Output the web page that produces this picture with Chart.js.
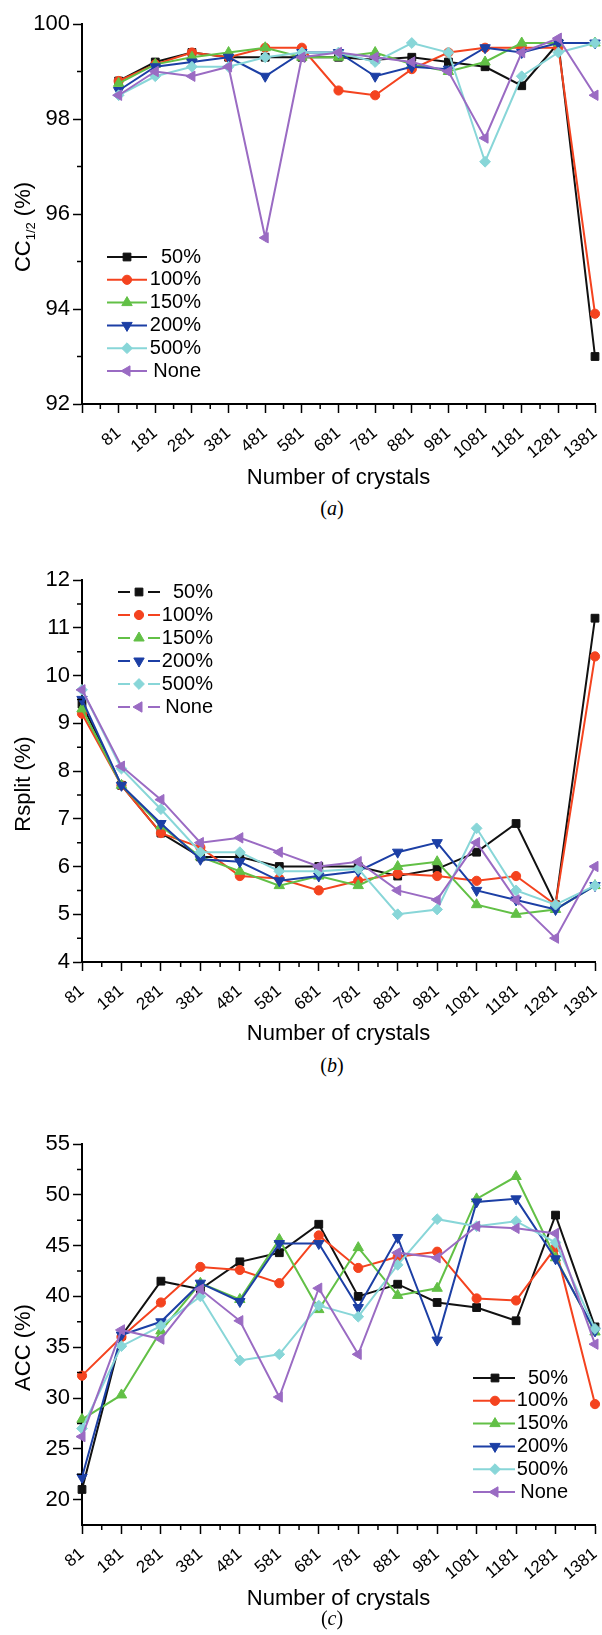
<!DOCTYPE html>
<html>
<head>
<meta charset="utf-8">
<script src="https://cdn.jsdelivr.net/npm/chart.js@4.4.1/dist/chart.umd.min.js"></script>
<style>
  html, body { margin: 0; padding: 0; background: #fff; }
  body { width: 602px; height: 1635px; position: relative; overflow: hidden; }
  canvas { position: absolute; left: 0; }
  .caption {
    position: absolute; left: 72px; width: 520px; text-align: center;
    font: 20px "Liberation Serif", "Times New Roman", serif; line-height: 24px; color: #000;
  }
</style>
</head>
<body>
<canvas id="ccChart" width="602" height="494" style="top:0px"></canvas>
<div class="caption" style="top:496px">(<i>a</i>)</div>
<canvas id="rsplitChart" width="602" height="520" style="top:530px"></canvas>
<div class="caption" style="top:1053px">(<i>b</i>)</div>
<canvas id="accChart" width="602" height="525" style="top:1090px"></canvas>
<div class="caption" style="top:1606px">(<i>c</i>)</div>

<script>
// number of crystals (x) and their tick labels
const crystals = [81, 181, 281, 381, 481, 581, 681, 781, 881, 981, 1081, 1181, 1281, 1381];
const xTickLabels = ["81", "181", "281", "381", "481", "581", "681", "781", "881", "981", "1081", "1181", "1281", "1381"];
const seriesNames = ["50%", "100%", "150%", "200%", "500%", "None"];

// (a) CC1/2 (%)
const cc50   = [98.8, 99.2, 99.4, 99.3, 99.3, 99.3, 99.3, 99.25, 99.3, 99.2, 99.1, 98.7, 99.6, 93.0];
const cc100  = [98.8, 99.15, 99.4, 99.3, 99.5, 99.5, 98.6, 98.5, 99.05, 99.4, 99.5, 99.5, 99.5, 93.9];
const cc150  = [98.75, 99.15, 99.3, 99.4, 99.5, 99.3, 99.3, 99.4, 99.15, 99.0, 99.2, 99.6, 99.6, 99.6];
const cc200  = [98.6, 99.1, 99.2, 99.3, 98.9, 99.4, 99.4, 98.9, 99.1, 99.05, 99.5, 99.4, 99.6, 99.6];
const cc500  = [98.5, 98.9, 99.1, 99.1, 99.3, 99.4, 99.4, 99.2, 99.6, 99.4, 97.1, 98.9, 99.4, 99.6];
const ccNone = [98.5, 99.0, 98.9, 99.1, 95.5, 99.3, 99.4, 99.3, 99.2, 99.0, 97.6, 99.4, 99.7, 98.5];

// (b) Rsplit (%)
const rs50   = [9.4, 7.7, 6.7, 6.2, 6.2, 6.0, 6.0, 6.0, 5.8, 5.95, 6.3, 6.9, 5.2, 11.2];
const rs100  = [9.2, 7.7, 6.7, 6.4, 5.8, 5.75, 5.5, 5.7, 5.85, 5.8, 5.7, 5.8, 5.2, 10.4];
const rs150  = [9.3, 7.7, 6.85, 6.2, 5.9, 5.6, 5.8, 5.6, 6.0, 6.1, 5.2, 5.0, 5.1, 5.6];
const rs200  = [9.5, 7.7, 6.9, 6.15, 6.1, 5.7, 5.8, 5.9, 6.3, 6.5, 5.5, 5.3, 5.1, 5.6];
const rs500  = [9.7, 8.05, 7.2, 6.3, 6.3, 5.9, 5.9, 5.95, 5.0, 5.1, 6.8, 5.5, 5.2, 5.6];
const rsNone = [9.7, 8.1, 7.4, 6.5, 6.6, 6.3, 6.0, 6.1, 5.5, 5.3, 6.5, 5.3, 4.5, 6.0];

// (c) ACC (%)
const acc50   = [21.0, 36.1, 41.5, 40.7, 43.4, 44.3, 47.1, 40.0, 41.2, 39.4, 38.9, 37.6, 48.0, 37.0];
const acc100  = [32.2, 36.0, 39.4, 42.9, 42.6, 41.3, 46.0, 42.8, 43.9, 44.4, 39.8, 39.6, 44.8, 29.4];
const acc150  = [27.9, 30.3, 36.6, 41.3, 39.7, 45.6, 38.7, 44.8, 40.1, 40.8, 49.6, 51.8, 43.8, 36.5];
const acc200  = [22.2, 36.2, 37.5, 41.3, 39.5, 45.2, 45.2, 38.9, 45.8, 35.7, 49.3, 49.6, 43.7, 36.6];
const acc500  = [27.0, 35.1, 37.1, 40.0, 33.7, 34.3, 39.1, 38.0, 43.1, 47.6, 46.9, 47.4, 45.3, 36.8];
const accNone = [26.2, 36.7, 35.8, 40.7, 37.6, 30.1, 40.8, 34.3, 44.3, 43.8, 46.9, 46.7, 46.2, 35.3];

const seriesColors = ["#111111", "#f4431f", "#62c046", "#1c3fa5", "#88d6d8", "#9a6bc3"];
const markers = [
  { style: "rect", rotation: 0, radius: 5.5 },
  { style: "circle", rotation: 0, radius: 4.6 },
  { style: "triangle", rotation: 0, radius: 6 },
  { style: "triangle", rotation: 180, radius: 6 },
  { style: "rectRot", rotation: 0, radius: 5.4 },
  { style: "triangle", rotation: 270, radius: 6 },
];

Chart.defaults.font.family = '"Liberation Sans", Arial, sans-serif';
Chart.defaults.color = "#000";

function midpoints(arr) {
  return arr.slice(1).map((v, i) => (arr[i] + v) / 2);
}

function makeDatasets(seriesValues) {
  return seriesValues.map((vals, i) => ({
    label: seriesNames[i],
    data: vals.map((v, j) => ({ x: crystals[j], y: v })),
    borderColor: seriesColors[i],
    backgroundColor: seriesColors[i],
    borderWidth: 2,
    pointStyle: markers[i].style,
    pointRotation: markers[i].rotation,
    pointRadius: markers[i].radius,
    pointBorderWidth: 1,
    pointBorderColor: seriesColors[i],
    pointBackgroundColor: seriesColors[i],
    tension: 0,
    clip: false,
    order: seriesValues.length - i,
  }));
}

// legend drawn inside the plot area
const insetLegend = {
  id: "insetLegend",
  afterDraw(chart, args, opts) {
    if (!opts || opts.top === undefined) return;
    const ctx = chart.ctx;
    ctx.save();
    ctx.font = opts.fontSize + "px " + Chart.defaults.font.family;
    ctx.textAlign = "right";
    ctx.textBaseline = "middle";
    chart.data.datasets.forEach((ds, i) => {
      const y = opts.top + i * opts.rowHeight;
      ctx.strokeStyle = ds.borderColor;
      ctx.lineWidth = ds.borderWidth;
      ctx.beginPath();
      if (opts.gap) {
        ctx.moveTo(opts.lineStart, y);
        ctx.lineTo(opts.markerX - opts.gap, y);
        ctx.moveTo(opts.markerX + opts.gap, y);
        ctx.lineTo(opts.lineEnd, y);
      } else {
        ctx.moveTo(opts.lineStart, y);
        ctx.lineTo(opts.lineEnd, y);
      }
      ctx.stroke();
      ctx.fillStyle = ds.pointBackgroundColor;
      ctx.lineWidth = 1;
      Chart.helpers.drawPoint(ctx, {
        pointStyle: ds.pointStyle,
        rotation: ds.pointRotation,
        radius: ds.pointRadius,
        borderWidth: 1,
      }, opts.markerX, y);
      ctx.fillStyle = "#000";
      ctx.fillText(ds.label, opts.textRight, y);
    });
    ctx.restore();
  },
};

// short ticks between the labelled ones
const minorTicks = {
  id: "minorTicks",
  afterDraw(chart, args, opts) {
    if (!opts) return;
    const ctx = chart.ctx;
    const xs = chart.scales.x, ys = chart.scales.y;
    ctx.save();
    ctx.strokeStyle = "#000";
    ctx.lineWidth = 1.5;
    ctx.beginPath();
    (opts.x || []).forEach((v) => {
      const px = xs.getPixelForValue(v);
      ctx.moveTo(px, xs.top);
      ctx.lineTo(px, xs.top + opts.length);
    });
    (opts.y || []).forEach((v) => {
      const py = ys.getPixelForValue(v);
      ctx.moveTo(ys.right, py);
      ctx.lineTo(ys.right - opts.length, py);
    });
    ctx.stroke();
    ctx.restore();
  },
};

// y title with optional subscript part
const richYTitle = {
  id: "richYTitle",
  afterDraw(chart, args, opts) {
    if (!opts || !opts.parts) return;
    const ctx = chart.ctx;
    const ca = chart.chartArea;
    const fam = Chart.defaults.font.family;
    ctx.save();
    ctx.translate(opts.x, (ca.top + ca.bottom) / 2 + opts.dy);
    ctx.rotate(-Math.PI / 2);
    ctx.fillStyle = "#000";
    ctx.textAlign = "left";
    ctx.textBaseline = "alphabetic";
    const widths = opts.parts.map((p) => {
      ctx.font = (p.sub ? opts.subSize : opts.size) + "px " + fam;
      return ctx.measureText(p.text).width;
    });
    let cx = -widths.reduce((a, b) => a + b, 0) / 2;
    opts.parts.forEach((p, i) => {
      ctx.font = (p.sub ? opts.subSize : opts.size) + "px " + fam;
      ctx.fillText(p.text, cx, p.sub ? opts.baseline + 5 : opts.baseline);
      cx += widths[i];
    });
    ctx.restore();
  },
};

function xScale(min, majors, height) {
  return {
    type: "linear",
    min: min,
    max: 1381,
    afterBuildTicks: (s) => { s.ticks = majors.map((v) => ({ value: v })); },
    afterFit: (s) => { s.height = height; s.paddingLeft = 0; s.paddingRight = 0; },
    border: { display: true, color: "#000", width: 2 },
    grid: { drawOnChartArea: false, drawTicks: true, tickLength: 9, tickColor: "#000", tickWidth: 1.5 },
    ticks: {
      autoSkip: false,
      minRotation: 40,
      maxRotation: 40,
      padding: 10,
      color: "#000",
      font: { size: 17 },
      callback: (v) => {
        const i = crystals.indexOf(v);
        return i < 0 ? "" : xTickLabels[i];
      },
    },
    title: {
      display: true,
      text: "Number of crystals",
      color: "#000",
      font: { size: 22, lineHeight: 1.2 },
      padding: { top: 0, bottom: 2.4 },
    },
  };
}

function yScale(min, max, majors) {
  return {
    type: "linear",
    min: min,
    max: max,
    afterBuildTicks: (s) => { s.ticks = majors.map((v) => ({ value: v })); },
    afterFit: (s) => { s.width = 82; s.paddingTop = 0; s.paddingBottom = 0; },
    border: { display: true, color: "#000", width: 2 },
    grid: { drawOnChartArea: false, drawTicks: true, tickLength: 9, tickColor: "#000", tickWidth: 1.5 },
    ticks: { padding: 3, color: "#000", font: { size: 22 } },
    title: { display: false },
  };
}

function renderPanel(canvasId, seriesValues, cfg) {
  const ctx = document.getElementById(canvasId).getContext("2d");
  return new Chart(ctx, {
    type: "line",
    data: { datasets: makeDatasets(seriesValues) },
    options: {
      responsive: false,
      animation: false,
      devicePixelRatio: 1,
      layout: { padding: { top: cfg.padTop, right: 0, bottom: 0, left: 0 } },
      scales: {
        x: xScale(cfg.xMin, cfg.xMajors, cfg.xHeight),
        y: yScale(cfg.yMin, cfg.yMax, cfg.yMajors),
      },
      plugins: {
        legend: { display: false },
        tooltip: { enabled: false },
        insetLegend: cfg.legend,
        minorTicks: { x: midpoints(cfg.xMajors), y: midpoints(cfg.yMajors), length: 5 },
        richYTitle: { parts: cfg.yTitle, x: 22, dy: 13, size: 22, subSize: 13, baseline: 8 },
      },
    },
    plugins: [insetLegend, minorTicks, richYTitle],
  });
}

renderPanel("ccChart", [cc50, cc100, cc150, cc200, cc500, ccNone], {
  padTop: 24, xHeight: 90,
  xMin: -19, xMajors: [-19].concat(crystals),
  yMin: 92, yMax: 100, yMajors: [92, 94, 96, 98, 100],
  yTitle: [{ text: "CC" }, { text: "1/2", sub: true }, { text: " (%)" }],
  legend: { top: 257, rowHeight: 22.8, lineStart: 107, lineEnd: 147, markerX: 127, gap: 0, textRight: 201, fontSize: 20 },
});

renderPanel("rsplitChart", [rs50, rs100, rs150, rs200, rs500, rsNone], {
  padTop: 50, xHeight: 88,
  xMin: 81, xMajors: crystals,
  yMin: 4, yMax: 12, yMajors: [4, 5, 6, 7, 8, 9, 10, 11, 12],
  yTitle: [{ text: "Rsplit (%)" }],
  legend: { top: 62, rowHeight: 23, lineStart: 118, lineEnd: 160, markerX: 139, gap: 9, textRight: 213, fontSize: 20 },
});

renderPanel("accChart", [acc50, acc100, acc150, acc200, acc500, accNone], {
  padTop: 54, xHeight: 90,
  xMin: 81, xMajors: crystals,
  yMin: 17.5, yMax: 55, yMajors: [20, 25, 30, 35, 40, 45, 50, 55],
  yTitle: [{ text: "ACC (%)" }],
  legend: { top: 288, rowHeight: 22.8, lineStart: 473, lineEnd: 515, markerX: 495, gap: 0, textRight: 568, fontSize: 20 },
});
</script>
</body>
</html>
